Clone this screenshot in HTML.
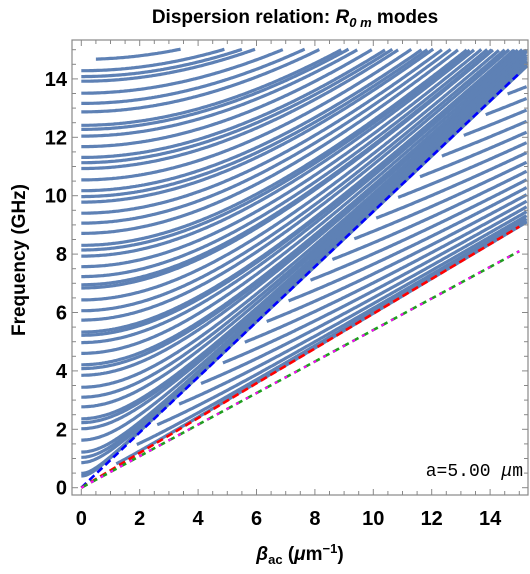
<!DOCTYPE html>
<html><head><meta charset="utf-8"><style>
html,body{margin:0;padding:0;background:#fff;}
svg{display:block;font-family:"Liberation Sans",Arial,sans-serif;}
</style></head><body>
<svg id="chart" width="530" height="574" viewBox="0 0 530 574" xmlns="http://www.w3.org/2000/svg">
<text x="295" y="23" text-anchor="middle" font-size="19" font-weight="bold">Dispersion relation: <tspan font-style="italic">R</tspan><tspan font-size="13" dy="4" font-style="italic">0 m</tspan><tspan dy="-4"> modes</tspan></text>
<text transform="translate(25,260) rotate(-90)" text-anchor="middle" font-size="19" font-weight="bold">Frequency (GHz)</text>
<text x="300" y="560" text-anchor="middle" font-size="19" font-weight="bold"><tspan font-style="italic">β</tspan><tspan font-size="13" dy="4">ac</tspan><tspan dy="-4"> (</tspan><tspan font-style="italic">μ</tspan>m<tspan font-size="13" dy="-7">−1</tspan><tspan dy="7">)</tspan></text>
<defs><clipPath id="plotclip"><rect x="72" y="40" width="456" height="455"/></clipPath></defs>
<g id="series" clip-path="url(#plotclip)"></g>
<g id="axes"></g>
<rect x="72" y="40" width="456" height="455" fill="none" stroke="#888" stroke-width="1.2"/>
<text x="523" y="476" text-anchor="end" font-size="18" font-family="Liberation Mono, monospace">a=5.00 <tspan font-style="italic">μ</tspan>m</text>
</svg>
<script>
// data
const modeCutoffs = [0.40,0.49,0.86,1.04,1.22,1.63,2.02,2.23,2.36,2.77,3.10,3.44,3.85,4.08,4.21,4.60,4.97,5.22,5.33,5.74,6.06,6.43,6.84,6.95,7.23,7.57,7.93,8.14,8.30,8.71,9.06,9.40,9.78,9.97,10.17,10.54,10.93,11.13,11.31,11.68,12.04,12.27,12.41,12.87,13.16,13.51,13.92,14.08,14.28,14.67];
const modeStart = [0,0,0,0,0,0,0,0,0,0,0,0,0,0,0,0,0,0,0,0,0,0,0,0,0,0,0,0,0,0,0,0,0,0,0,0,0,0,0,0,0,0,0,0,0,0,0,0,0,0.5];
const shearOffsets = [0.4,0.95,1.5,2.05,2.6,3.15,3.7,4.25,4.8,5.35,5.9,6.45,7.0,7.55,8.1,8.65,9.2,9.75,10.3,10.85,11.4];
const velocityLines = [0.946, 0.596, 0.54];
const xTicks = [0,2,4,6,8,10,12,14];
const yTicks = [0,2,4,6,8,10,12,14];

const X0=81.3, Y0=487.7, K=29.2;
const sx = b => X0 + b*K;
const sy = f => Y0 - f*K;
const NS='http://www.w3.org/2000/svg';
const series=document.getElementById('series');
const axes=document.getElementById('axes');
const cL=velocityLines[0], cS=velocityLines[1];

function addPath(d, stroke, w, dash, name){
  const p=document.createElementNS(NS,'path');
  p.setAttribute('d',d);p.setAttribute('fill','none');p.setAttribute('stroke',stroke);
  p.setAttribute('stroke-width',w);
  if(dash)p.setAttribute('stroke-dasharray',dash);
  
  
  series.appendChild(p);
}
function curve(a,c,b0,below){
  let d='',pen=false;
  for(let b=b0;b<=15.3;b+=0.05){
    const f=Math.sqrt(a*a+(c*b)*(c*b));
    if(f>15.02)break;
    if(below && f>cL*b-0.3){pen=false;continue;}
    d+=(pen?'L':'M')+sx(b).toFixed(1)+','+sy(f).toFixed(1);pen=true;
  }
  return d;
}
modeCutoffs.forEach((a,i)=>{addPath(curve(a,cL,modeStart[i],false),'#5e81b5',3.2,null,'mode-curve');});
shearOffsets.forEach((a)=>{addPath(curve(a,cS,0,true),'#5e81b5',3.2,null,'shear-mode-curve');});
const lineCol=['#0000ff','#ff0000','#1f9e1f'];
const lineNames=['longitudinal-line','shear-line','rayleigh-line'];
velocityLines.forEach((v,i)=>{
  addPath('M'+sx(0)+','+sy(0)+'L'+sx(15)+','+sy(15*v),lineCol[i],2.6,'7,4',lineNames[i]);
});
addPath('M'+sx(0)+','+sy(0)+'L'+sx(15)+','+sy(15*velocityLines[2]),'#ff00ff',2,'3,8','magenta-dotted-line');

function tick(x1,y1,x2,y2){
  const l=document.createElementNS(NS,'line');
  l.setAttribute('x1',x1);l.setAttribute('y1',y1);l.setAttribute('x2',x2);l.setAttribute('y2',y2);
  l.setAttribute('stroke','#888');l.setAttribute('stroke-width','1');
  
  
  axes.appendChild(l);
}
for(let v=0;v<=15;v+=0.5){
  const L=(v%2===0)?6:4;
  const x=sx(v), y=sy(v);
  if(x<528){tick(x,495,x,495-L);tick(x,40,x,40+L);}
  if(y>40){tick(72,y,72+L,y);tick(528,y,528-L,y);}
}
xTicks.forEach(v=>{
  const t=document.createElementNS(NS,'text');
  t.setAttribute('x',sx(v));t.setAttribute('y',525);t.setAttribute('text-anchor','middle');
  t.setAttribute('font-size','20');t.setAttribute('font-weight','bold');t.textContent=v;
  
  
  axes.appendChild(t);
});
yTicks.forEach(v=>{
  const t=document.createElementNS(NS,'text');
  t.setAttribute('x',67);t.setAttribute('y',sy(v)+7);t.setAttribute('text-anchor','end');
  t.setAttribute('font-size','20');t.setAttribute('font-weight','bold');t.textContent=v;
  
  
  axes.appendChild(t);
});
</script>
</body></html>
